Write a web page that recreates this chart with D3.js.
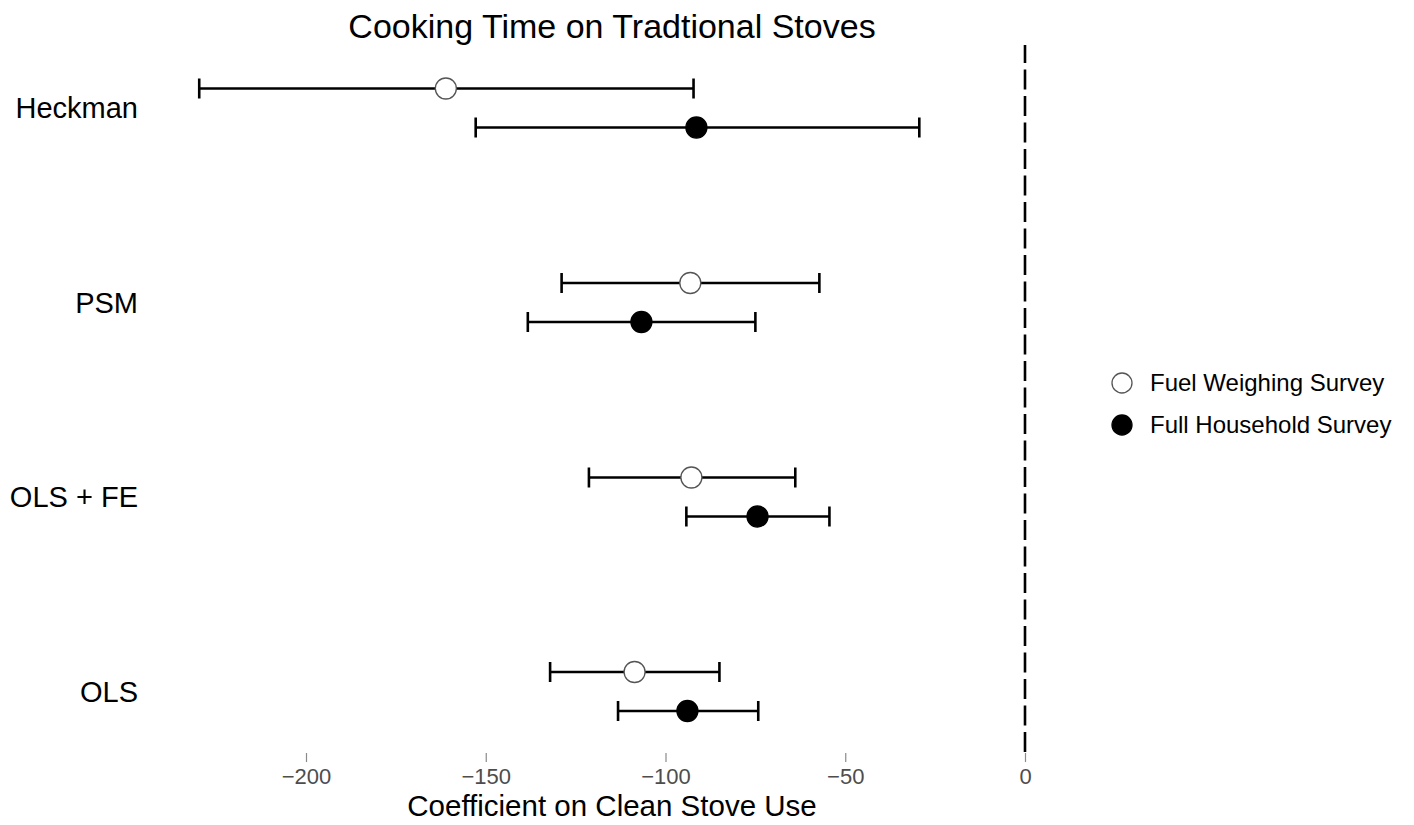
<!DOCTYPE html>
<html>
<head>
<meta charset="utf-8">
<script src="https://cdn.jsdelivr.net/npm/d3@7"></script>
<style>
  html, body { margin: 0; padding: 0; background: #fff; }
  svg { display: block; font-family: "Liberation Sans", Arial, sans-serif; }
</style>
</head>
<body>
<svg id="chart" width="1414" height="825"></svg>
<script>
// ---- data ----
const models = ["Heckman", "PSM", "OLS + FE", "OLS"];
const surveys = ["Fuel Weighing Survey", "Full Household Survey"];
const fuelEst   = [-161.1, -93.1, -92.8, -108.6];
const fuelLow   = [-229.7, -128.9, -121.3, -132.1];
const fuelHigh  = [-92.2, -57.2, -63.9, -85.0];
const fullEst   = [-91.4, -106.7, -74.4, -93.9];
const fullLow   = [-152.8, -138.3, -94.2, -113.2];
const fullHigh  = [-29.4, -75.0, -54.4, -74.2];
const xTicks = [-200, -150, -100, -50, 0];

const rows = [];
models.forEach((m, i) => {
  rows.push({model: m, survey: surveys[0], est: fuelEst[i], lo: fuelLow[i], hi: fuelHigh[i]});
  rows.push({model: m, survey: surveys[1], est: fullEst[i], lo: fullLow[i], hi: fullHigh[i]});
});

const svg = d3.select("#chart");
const x = d3.scaleLinear().domain([-200, 0]).range([306, 1025]);
const y = d3.scalePoint().domain(models).range([108, 691.5]);
const dodge = d3.scalePoint().domain(surveys).range([-19.5, 19.5]);
const fill = d3.scaleOrdinal().domain(surveys).range(["#ffffff", "#000000"]);
const stroke = d3.scaleOrdinal().domain(surveys).range(["#555555", "#000000"]);

// title
svg.append("text").attr("x", 612).attr("y", 38).attr("text-anchor", "middle")
  .attr("font-size", 34).attr("fill", "#000").text("Cooking Time on Tradtional Stoves");

// zero reference line (drawn bottom to top)
svg.append("line").attr("x1", x(0)).attr("x2", x(0)).attr("y1", 752).attr("y2", 45)
  .attr("stroke", "#000").attr("stroke-width", 2.6).attr("stroke-dasharray", "20,6.5");

// x axis (no domain line)
const xAxis = svg.append("g").attr("transform", "translate(0,753)")
  .call(d3.axisBottom(x).tickValues(xTicks).tickSize(9).tickPadding(6)
    .tickFormat(d => d < 0 ? "\u2212" + Math.abs(d) : String(d)));
xAxis.select(".domain").remove();
xAxis.selectAll(".tick line").attr("stroke", "#8a8a8a").attr("stroke-width", 1.2);
xAxis.selectAll(".tick text").attr("fill", "#4d4d4d").attr("font-size", 22)
  .attr("font-family", "Liberation Sans, Arial, sans-serif");

svg.append("text").attr("x", 612).attr("y", 816).attr("text-anchor", "middle")
  .attr("font-size", 29.5).attr("fill", "#000").text("Coefficient on Clean Stove Use");

// y labels
svg.append("g").selectAll("text").data(models).join("text")
  .attr("x", 138).attr("y", d => y(d) + 10).attr("text-anchor", "end")
  .attr("font-size", 29).attr("fill", "#000").text(d => d);

// error bars
const g = svg.append("g");
const bars = g.selectAll("g.bar").data(rows).join("g").attr("class", "bar")
  .attr("transform", d => `translate(0,${y(d.model) + dodge(d.survey)})`);
bars.append("line").attr("x1", d => x(d.lo)).attr("x2", d => x(d.hi))
  .attr("stroke", "#000").attr("stroke-width", 2.6);
bars.append("line").attr("x1", d => x(d.lo)).attr("x2", d => x(d.lo))
  .attr("y1", -10).attr("y2", 10).attr("stroke", "#000").attr("stroke-width", 2.6);
bars.append("line").attr("x1", d => x(d.hi)).attr("x2", d => x(d.hi))
  .attr("y1", -10).attr("y2", 10).attr("stroke", "#000").attr("stroke-width", 2.6);
bars.append("circle").attr("cx", d => x(d.est)).attr("r", 10.5)
  .attr("fill", d => fill(d.survey)).attr("stroke", d => stroke(d.survey)).attr("stroke-width", 1.3);

// legend
const leg = svg.append("g").selectAll("g").data(surveys).join("g")
  .attr("transform", (d, i) => `translate(1122,${383 + i * 42})`);
leg.append("circle").attr("r", 10).attr("fill", d => fill(d)).attr("stroke", d => stroke(d)).attr("stroke-width", 1.3);
leg.append("text").attr("x", 28).attr("y", 8).attr("font-size", 24).attr("fill", "#000").text(d => d);
</script>
</body>
</html>
